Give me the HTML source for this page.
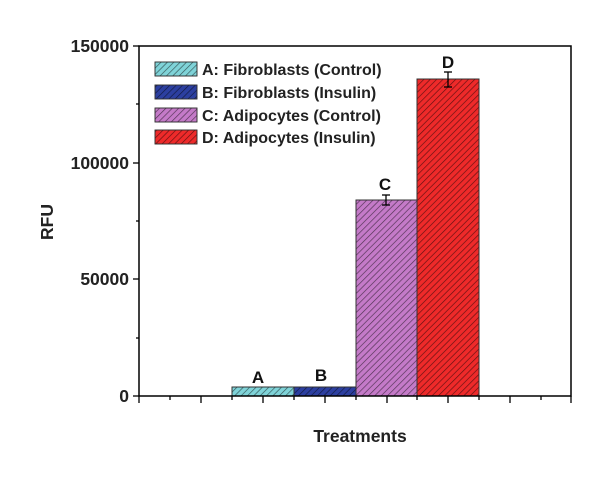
<!DOCTYPE html>
<html><head><style>body{margin:0;background:#fff}</style></head><body>
<svg width="605" height="480" xmlns="http://www.w3.org/2000/svg" font-family="Liberation Sans, sans-serif">
<defs>
<pattern id="h" patternUnits="userSpaceOnUse" width="4.5" height="4.5" patternTransform="rotate(45)"><line x1="0" y1="0" x2="0" y2="4.5" stroke="#000" stroke-width="1.3" opacity="0.6"/></pattern>
</defs>
<rect width="605" height="480" fill="#fff"/>
<g stroke="#333" stroke-width="1">
<rect x="232" y="387" width="62" height="9" fill="#7fd3d8"/><rect x="232" y="387" width="62" height="9" fill="url(#h)"/>
<rect x="294" y="387" width="62" height="9" fill="#2c3fa0"/><rect x="294" y="387" width="62" height="9" fill="url(#h)"/>
<rect x="356" y="200" width="61" height="196" fill="#c47ac8"/><rect x="356" y="200" width="61" height="196" fill="url(#h)"/>
<rect x="417" y="79" width="62" height="317" fill="#ee2a2a"/><rect x="417" y="79" width="62" height="317" fill="url(#h)"/>
</g>
<g stroke="#000" stroke-width="1.3">
<line x1="386" y1="195" x2="386" y2="205"/><line x1="382" y1="195" x2="390" y2="195"/><line x1="382" y1="205" x2="390" y2="205"/>
<line x1="448" y1="72" x2="448" y2="87"/><line x1="444" y1="72" x2="452" y2="72"/><line x1="444" y1="87" x2="452" y2="87"/>
</g>
<rect x="139" y="46" width="432" height="350" fill="none" stroke="#000" stroke-width="1.5"/>
<g stroke="#000" stroke-width="1.3">
<line x1="133" y1="46" x2="139" y2="46"/><line x1="133" y1="163" x2="139" y2="163"/><line x1="133" y1="279" x2="139" y2="279"/><line x1="133" y1="396" x2="139" y2="396"/>
<line x1="136" y1="104" x2="139" y2="104"/><line x1="136" y1="221" x2="139" y2="221"/><line x1="136" y1="338" x2="139" y2="338"/>
<line x1="139" y1="396" x2="139" y2="403"/><line x1="170" y1="396" x2="170" y2="400"/><line x1="201" y1="396" x2="201" y2="403"/><line x1="232" y1="396" x2="232" y2="400"/><line x1="263" y1="396" x2="263" y2="403"/><line x1="294" y1="396" x2="294" y2="400"/><line x1="325" y1="396" x2="325" y2="403"/><line x1="356" y1="396" x2="356" y2="400"/><line x1="387" y1="396" x2="387" y2="403"/><line x1="417" y1="396" x2="417" y2="400"/><line x1="448" y1="396" x2="448" y2="403"/><line x1="479" y1="396" x2="479" y2="400"/><line x1="510" y1="396" x2="510" y2="403"/><line x1="541" y1="396" x2="541" y2="400"/><line x1="571" y1="396" x2="571" y2="403"/>
</g>
<g font-size="17.5" font-weight="bold" text-anchor="end" fill="#222">
<text x="129" y="52">150000</text><text x="129" y="169">100000</text><text x="129" y="285">50000</text><text x="129" y="402">0</text>
</g>
<text x="360" y="442" font-size="17.5" font-weight="bold" text-anchor="middle" fill="#222">Treatments</text>
<text transform="translate(53,222) rotate(-90)" font-size="17.5" font-weight="bold" text-anchor="middle" fill="#222">RFU</text>
<g font-size="17" font-weight="bold" text-anchor="middle" fill="#111">
<text x="258" y="383">A</text><text x="321" y="381">B</text><text x="385" y="190">C</text><text x="448" y="68">D</text>
</g>
<g stroke="#333" stroke-width="0.8">
<rect x="155" y="62" width="42" height="14" fill="#7fd3d8"/><rect x="155" y="62" width="42" height="14" fill="url(#h)"/>
<rect x="155" y="85" width="42" height="14" fill="#2c3fa0"/><rect x="155" y="85" width="42" height="14" fill="url(#h)"/>
<rect x="155" y="108" width="42" height="14" fill="#c47ac8"/><rect x="155" y="108" width="42" height="14" fill="url(#h)"/>
<rect x="155" y="130" width="42" height="14" fill="#ee2a2a"/><rect x="155" y="130" width="42" height="14" fill="url(#h)"/>
</g>
<g font-size="16" font-weight="bold" fill="#222">
<text x="202" y="75">A: Fibroblasts (Control)</text>
<text x="202" y="98">B: Fibroblasts (Insulin)</text>
<text x="202" y="121">C: Adipocytes (Control)</text>
<text x="202" y="143">D: Adipocytes (Insulin)</text>
</g>
</svg>
</body></html>
